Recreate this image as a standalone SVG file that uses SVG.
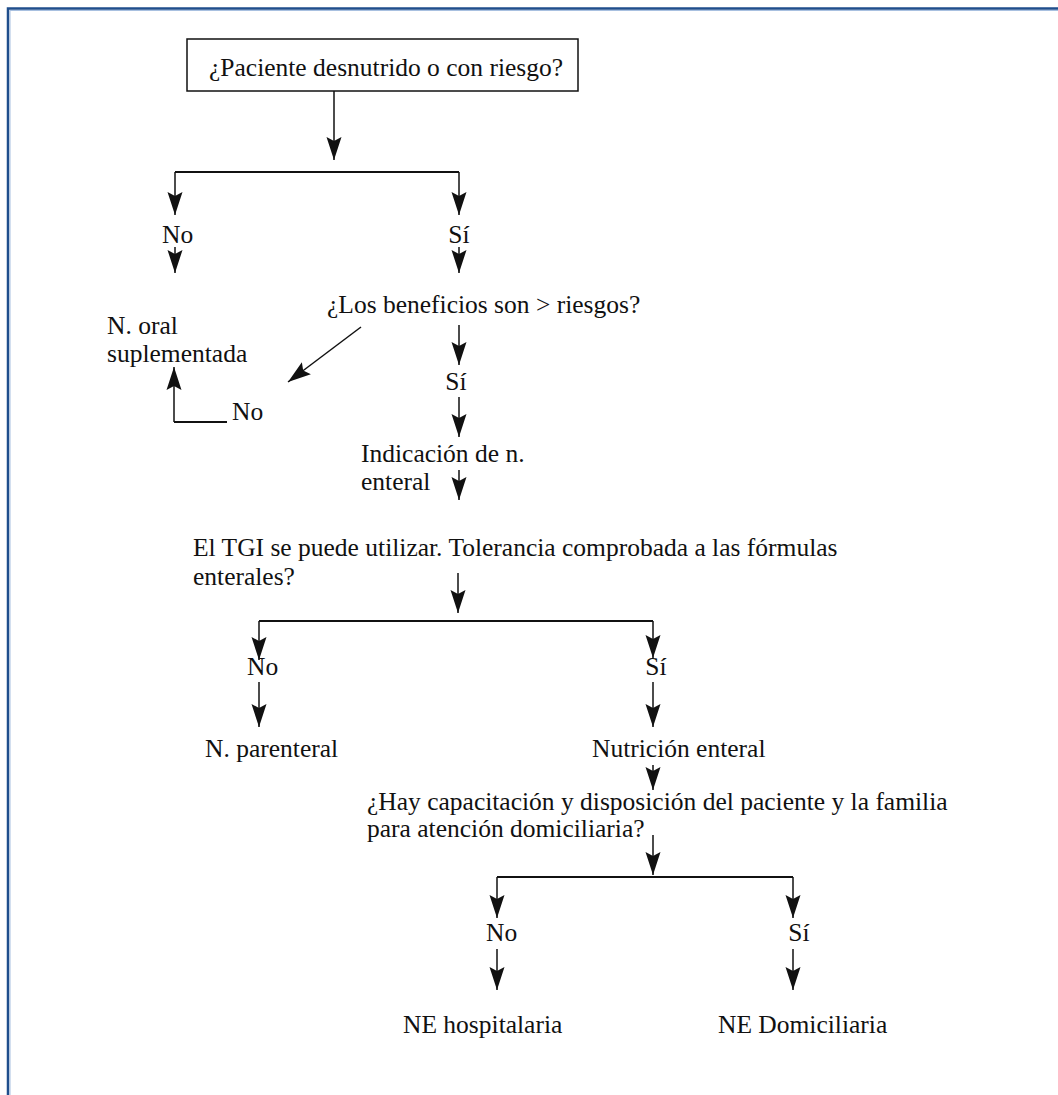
<svg xmlns="http://www.w3.org/2000/svg" width="1058" height="1095" viewBox="0 0 1058 1095">
<style>
text{font-family:"Liberation Serif","Times New Roman",serif;font-size:25.5px;fill:#111}
.c{stroke:#111;stroke-width:1.5;fill:none}
.h{stroke:#111;stroke-width:2;fill:none}
.a{marker-end:url(#ah)}
</style>
<defs>
<marker id="ah" viewBox="-24 -8 25 16" refX="0" refY="0" markerWidth="25" markerHeight="16" orient="auto" markerUnits="userSpaceOnUse">
<path d="M0,0 L-23,-7.5 L-19,0 L-23,7.5 Z" fill="#111"/>
</marker>
</defs>
<rect width="1058" height="1095" fill="#fff"/>
<g id="frame">
<path d="M8,1095 V8.5 H1058" stroke="#1f4e8c" stroke-width="2.5" fill="none"/>
<path d="M10,1095 V10.5 H1058" stroke="#a8c0e0" stroke-width="1" fill="none"/>
</g>
<g id="connectors">
<path class="c a" d="M334,91 V160"/>
<path class="h" d="M175,172 H459"/>
<path class="c a" d="M175,172 V215"/>
<path class="c a" d="M459,172 V215"/>
<path class="c a" d="M175,247 V273"/>
<path class="c a" d="M459,247 V273"/>
<path class="c a" d="M361,327 L288,382"/>
<path class="h" d="M227,422 H174"/>
<path class="c a" d="M174,422 V367"/>
<path class="c a" d="M459,325 V365"/>
<path class="c a" d="M459,397 V437"/>
<path class="c a" d="M459,470 V500"/>
<path class="c a" d="M458,573 V613"/>
<path class="h" d="M259,621 H653"/>
<path class="c a" d="M259,621 V660"/>
<path class="c a" d="M653,621 V658"/>
<path class="c a" d="M259,682 V727"/>
<path class="c a" d="M653,682 V727"/>
<path class="c a" d="M653,765 V790"/>
<path class="c a" d="M653,835 V875"/>
<path class="h" d="M497,877 H793"/>
<path class="c a" d="M497,877 V918"/>
<path class="c a" d="M793,877 V918"/>
<path class="c a" d="M497,949 V990"/>
<path class="c a" d="M793,949 V990"/>
</g>
<g id="n-start">
<rect x="187" y="39" width="391" height="52" fill="#fff" stroke="#111" stroke-width="1.5"/>
<text x="209" y="76">¿Paciente desnutrido o con riesgo?</text>
</g>
<g id="n-no1"><text x="162" y="243">No</text></g>
<g id="n-si1"><text x="459" y="243" text-anchor="middle">Sí</text></g>
<g id="n-oral"><text x="107" y="334">N. oral<tspan x="107" dy="28">suplementada</tspan></text></g>
<g id="n-benef"><text x="327" y="313">¿Los beneficios son &gt; riesgos?</text></g>
<g id="n-no2"><text x="232" y="420">No</text></g>
<g id="n-si2"><text x="456" y="390" text-anchor="middle">Sí</text></g>
<g id="n-indic"><text x="361" y="462">Indicación de n.<tspan x="361" dy="28">enteral</tspan></text></g>
<g id="n-tgi"><text x="193" y="556">El TGI se puede utilizar. Tolerancia comprobada a las fórmulas<tspan x="193" dy="29">enterales?</tspan></text></g>
<g id="n-no3"><text x="247" y="675">No</text></g>
<g id="n-si3"><text x="656" y="675" text-anchor="middle">Sí</text></g>
<g id="n-parent"><text x="205" y="757">N. parenteral</text></g>
<g id="n-nutri"><text x="592" y="757">Nutrición enteral</text></g>
<g id="n-hay"><text x="367" y="810">¿Hay capacitación y disposición del paciente y la familia<tspan x="367" dy="27">para atención domiciliaria?</tspan></text></g>
<g id="n-no4"><text x="486" y="941">No</text></g>
<g id="n-si4"><text x="799" y="941" text-anchor="middle">Sí</text></g>
<g id="n-hosp"><text x="403" y="1033">NE hospitalaria</text></g>
<g id="n-dom"><text x="718" y="1033">NE Domiciliaria</text></g>
</svg>
